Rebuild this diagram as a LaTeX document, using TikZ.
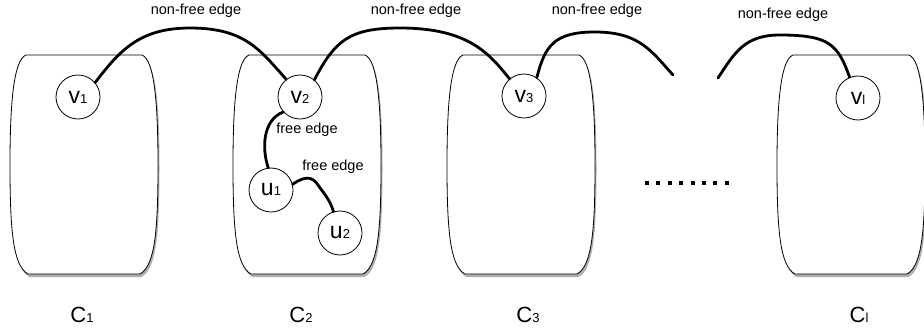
\documentclass[tikz,border=0pt]{standalone}
\usepackage{fontspec}
\setmainfont{Liberation Sans}
\usetikzlibrary{shadows}
\newcommand{\barrel}[1]{%
  \path[draw=black, line width=0.8pt, fill=white,
        drop shadow={shadow xshift=1.5pt, shadow yshift=-3pt, opacity=0.45, fill=black!70}]
    (#1-58,55) -- (#1+58,55)
    .. controls (#1+70,60) and (#1+74,100) .. (#1+74,165)
    .. controls (#1+74,230) and (#1+71,266) .. (#1+56,274)
    -- (#1-56,274)
    .. controls (#1-71,266) and (#1-74,230) .. (#1-74,165)
    .. controls (#1-74,100) and (#1-70,60) .. cycle;}
\newcommand{\vtx}[2]{{\fontsize{23}{23}\selectfont #1}{\fontsize{13}{13}\selectfont #2}}
\newcommand{\clab}[1]{{\fontsize{22}{22}\selectfont C}{\fontsize{13}{13}\selectfont #1}}
\tikzset{
  vnode/.style={circle, draw=black, line width=0.8pt, fill=white, minimum size=44pt, inner sep=0pt},
  edgeline/.style={line width=2.8pt, line cap=round},
  elabel/.style={font=\fontsize{14.5}{14.5}\selectfont, inner sep=0pt},
  clabel/.style={inner sep=0pt}
}
\begin{document}
\begin{tikzpicture}[x=1pt,y=-1pt]
\useasboundingbox (0,0) rectangle (924,334);
\barrel{84}
\barrel{307}
\barrel{521}
\barrel{851}

\node[vnode] (v1) at (78,97) {\vtx{v}{1}};
\node[vnode] (v2) at (300,97) {\vtx{v}{2}};
\node[vnode] (v3) at (524,96) {\vtx{v}{3}};
\node[vnode] (vl) at (858,98) {\vtx{v}{l}};
\node[vnode] (u1) at (271,190) {\vtx{u}{1}};
\node[vnode] (u2) at (340,233) {\vtx{u}{2}};

\coordinate (e1) at (673,75);
\coordinate (e2) at (718,78);

\draw[edgeline] (v1.40) .. controls (120,50) and (140,28) .. (190,28)
  .. controls (245,28) and (260,50) .. (v2.128);
\draw[edgeline] (v2.50) .. controls (335,40) and (350,28) .. (400,28)
  .. controls (470,28) and (490,55) .. (v3.130);
\draw[edgeline] (v3.55) .. controls (545,45) and (555,32) .. (595,32)
  .. controls (640,32) and (652,52) .. (e1);
\draw[edgeline] (e2) .. controls (735,52) and (745,35) .. (780,35)
  .. controls (830,35) and (838,45) .. (vl.112);
\draw[edgeline] (v2.222) .. controls (262,120) and (262,150) .. (u1.97);
\draw[edgeline] (u1.15) .. controls (305,176) and (312,176) .. (318,185)
  .. controls (325,195) and (330,200) .. (u2.107);

\node[elabel] (l1) at (196,11) {non-free edge};
\node[elabel] (l2) at (416,11) {non-free edge};
\node[elabel] (l3) at (597,11) {non-free edge};
\node[elabel] (l4) at (783,15) {non-free edge};
\node[elabel] (f1) at (307,130) {free edge};
\node[elabel] (f2) at (333,167) {free edge};

\coordinate (d1) at (645,183);
\coordinate (d2) at (729,183);
\draw[line width=4pt, dash pattern=on 4pt off 7.4pt] (d1) -- (d2);

\node[clabel] (c1) at (82,315) {\clab{1}};
\node[clabel] (c2) at (301,315) {\clab{2}};
\node[clabel] (c3) at (528,315) {\clab{3}};
\node[clabel] (cl) at (859,315) {\clab{l}};
\end{tikzpicture}
\end{document}
